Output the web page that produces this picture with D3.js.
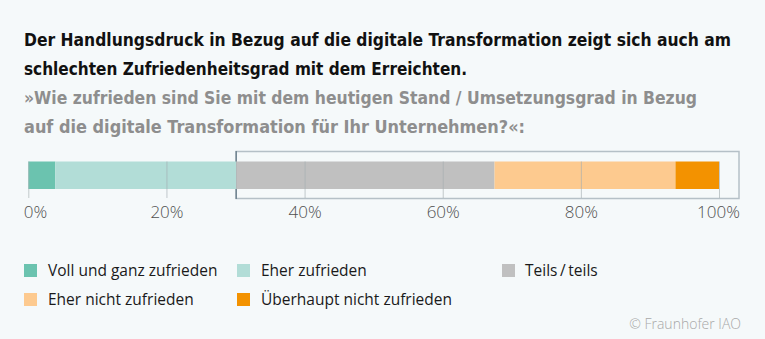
<!DOCTYPE html>
<html>
<head>
<meta charset="utf-8">
<script src="https://cdn.jsdelivr.net/npm/d3@7"></script>
<style>
    body { margin: 0; background: #f5f9fa; }
    svg { display: block; }
</style>
</head>
<body>
<div id="chart"></div>
<script>
// data
const categories = ["Voll und ganz zufrieden", "Eher zufrieden", "Teils\u2009/\u2009teils", "Eher nicht zufrieden", "Überhaupt nicht zufrieden"];
const values = [3.9, 26.2, 37.4, 26.2, 6.3];
const colors = ["#6bc3af", "#b2ddd7", "#c0c0c0", "#fdca8f", "#f39200"];
const tickValues = [0, 20, 40, 60, 80, 100];
const titleLines = [
    "Der Handlungsdruck in Bezug auf die digitale Transformation zeigt sich auch am",
    "schlechten Zufriedenheitsgrad mit dem Erreichten."
];
const subtitleLines = [
    "»Wie zufrieden sind Sie mit dem heutigen Stand / Umsetzungsgrad in Bezug",
    "auf die digitale Transformation für Ihr Unternehmen?«:"
];
// line widths in the picture
const titleWidths = [707, 443];
const subtitleWidths = [673, 501];

const width = 765, height = 339;

const svg = d3.select("#chart").append("svg")
    .attr("width", width)
    .attr("height", height);

svg.append("rect").attr("width", width).attr("height", height).attr("fill", "#f5f9fa");

// titles
const condensed = "'DejaVu Sans Condensed', 'Liberation Sans Narrow', sans-serif";
titleLines.forEach((t, i) => {
    svg.append("text")
        .attr("x", 24)
        .attr("y", 46 + i * 29)
        .attr("font-family", condensed)
        .attr("font-weight", "bold")
        .attr("font-size", 17)
        .attr("fill", "#111")
        .attr("textLength", titleWidths[i])
        .attr("lengthAdjust", "spacingAndGlyphs")
        .text(t);
});
subtitleLines.forEach((t, i) => {
    svg.append("text")
        .attr("x", 24)
        .attr("y", 104 + i * 29)
        .attr("font-family", condensed)
        .attr("font-weight", "bold")
        .attr("font-size", 17)
        .attr("fill", "#8e8e8e")
        .attr("textLength", subtitleWidths[i])
        .attr("lengthAdjust", "spacingAndGlyphs")
        .text(t);
});

// scales
const x = d3.scaleLinear().domain([0, 100]).range([28.3, 719]);
const barTop = 161.5, barH = 27.5, axisY = 198;

let cum = 0;
const stack = values.map((v, i) => {
    const d = {key: categories[i], x0: cum, x1: cum + v, color: colors[i]};
    cum += v;
    return d;
});

// highlight box around the not-satisfied part
const boxX = x(stack[2].x0);
svg.append("rect")
    .attr("x", boxX)
    .attr("y", 151.5)
    .attr("width", 739 - boxX)
    .attr("height", 47)
    .attr("fill", "none")
    .attr("stroke", "#b5c0c7")
    .attr("stroke-width", 1.5);
svg.append("line")
    .attr("x1", boxX).attr("x2", boxX)
    .attr("y1", 151).attr("y2", 199)
    .attr("stroke", "#6f8491")
    .attr("stroke-width", 1.5);

// bars
svg.selectAll(".seg")
    .data(stack)
    .enter()
    .append("rect")
    .attr("class", "seg")
    .attr("x", d => x(d.x0))
    .attr("y", barTop)
    .attr("width", d => x(d.x1) - x(d.x0))
    .attr("height", barH)
    .attr("fill", d => d.color);

// axis + grid lines
const xAxis = d3.axisBottom(x)
    .tickValues(tickValues)
    .tickFormat(d => d + "%")
    .tickSizeInner(-(axisY - barTop))
    .tickSizeOuter(0)
    .tickPadding(8);

const gAxis = svg.append("g")
    .attr("transform", `translate(0, ${axisY})`)
    .call(xAxis);

gAxis.select(".domain").remove();
gAxis.selectAll(".tick line")
    .attr("stroke", "#a3adb0")
    .attr("stroke-width", 0.8)
    .attr("stroke-opacity", 0.8);
gAxis.selectAll(".tick text")
    .attr("font-family", "'Open Sans', 'Noto Sans', sans-serif")
    .attr("font-weight", 300)
    .attr("font-size", 17)
    .attr("fill", "#505050");
gAxis.selectAll(".tick text").filter(d => d === 0)
    .attr("text-anchor", "start")
    .attr("x", -5);
gAxis.selectAll(".tick text").filter(d => d === 100)
    .attr("x", -1);

// legend
const legendPos = [
    {x: 24, y: 264}, {x: 237, y: 264}, {x: 502, y: 264},
    {x: 24, y: 293}, {x: 237, y: 293}
];
const legend = svg.selectAll(".legend")
    .data(categories)
    .enter()
    .append("g")
    .attr("class", "legend")
    .attr("transform", (d, i) => `translate(${legendPos[i].x}, ${legendPos[i].y})`);

legend.append("rect")
    .attr("width", 13)
    .attr("height", 13)
    .attr("fill", (d, i) => colors[i]);

legend.append("text")
    .attr("x", (d, i) => i === 2 ? 23 : 24)
    .attr("y", 12)
    .attr("font-family", "'Open Sans', 'Noto Sans', sans-serif")
    .attr("font-size", 15.5)
    .attr("fill", "#1a1a1a")
    .text(d => d);

// credit
svg.append("text")
    .attr("x", 741)
    .attr("y", 329)
    .attr("text-anchor", "end")
    .attr("font-family", "'Open Sans', 'Noto Sans', sans-serif")
    .attr("font-weight", 300)
    .attr("font-size", 14)
    .attr("fill", "#a8a8a8")
    .text("© Fraunhofer IAO");
</script>
</body>
</html>
